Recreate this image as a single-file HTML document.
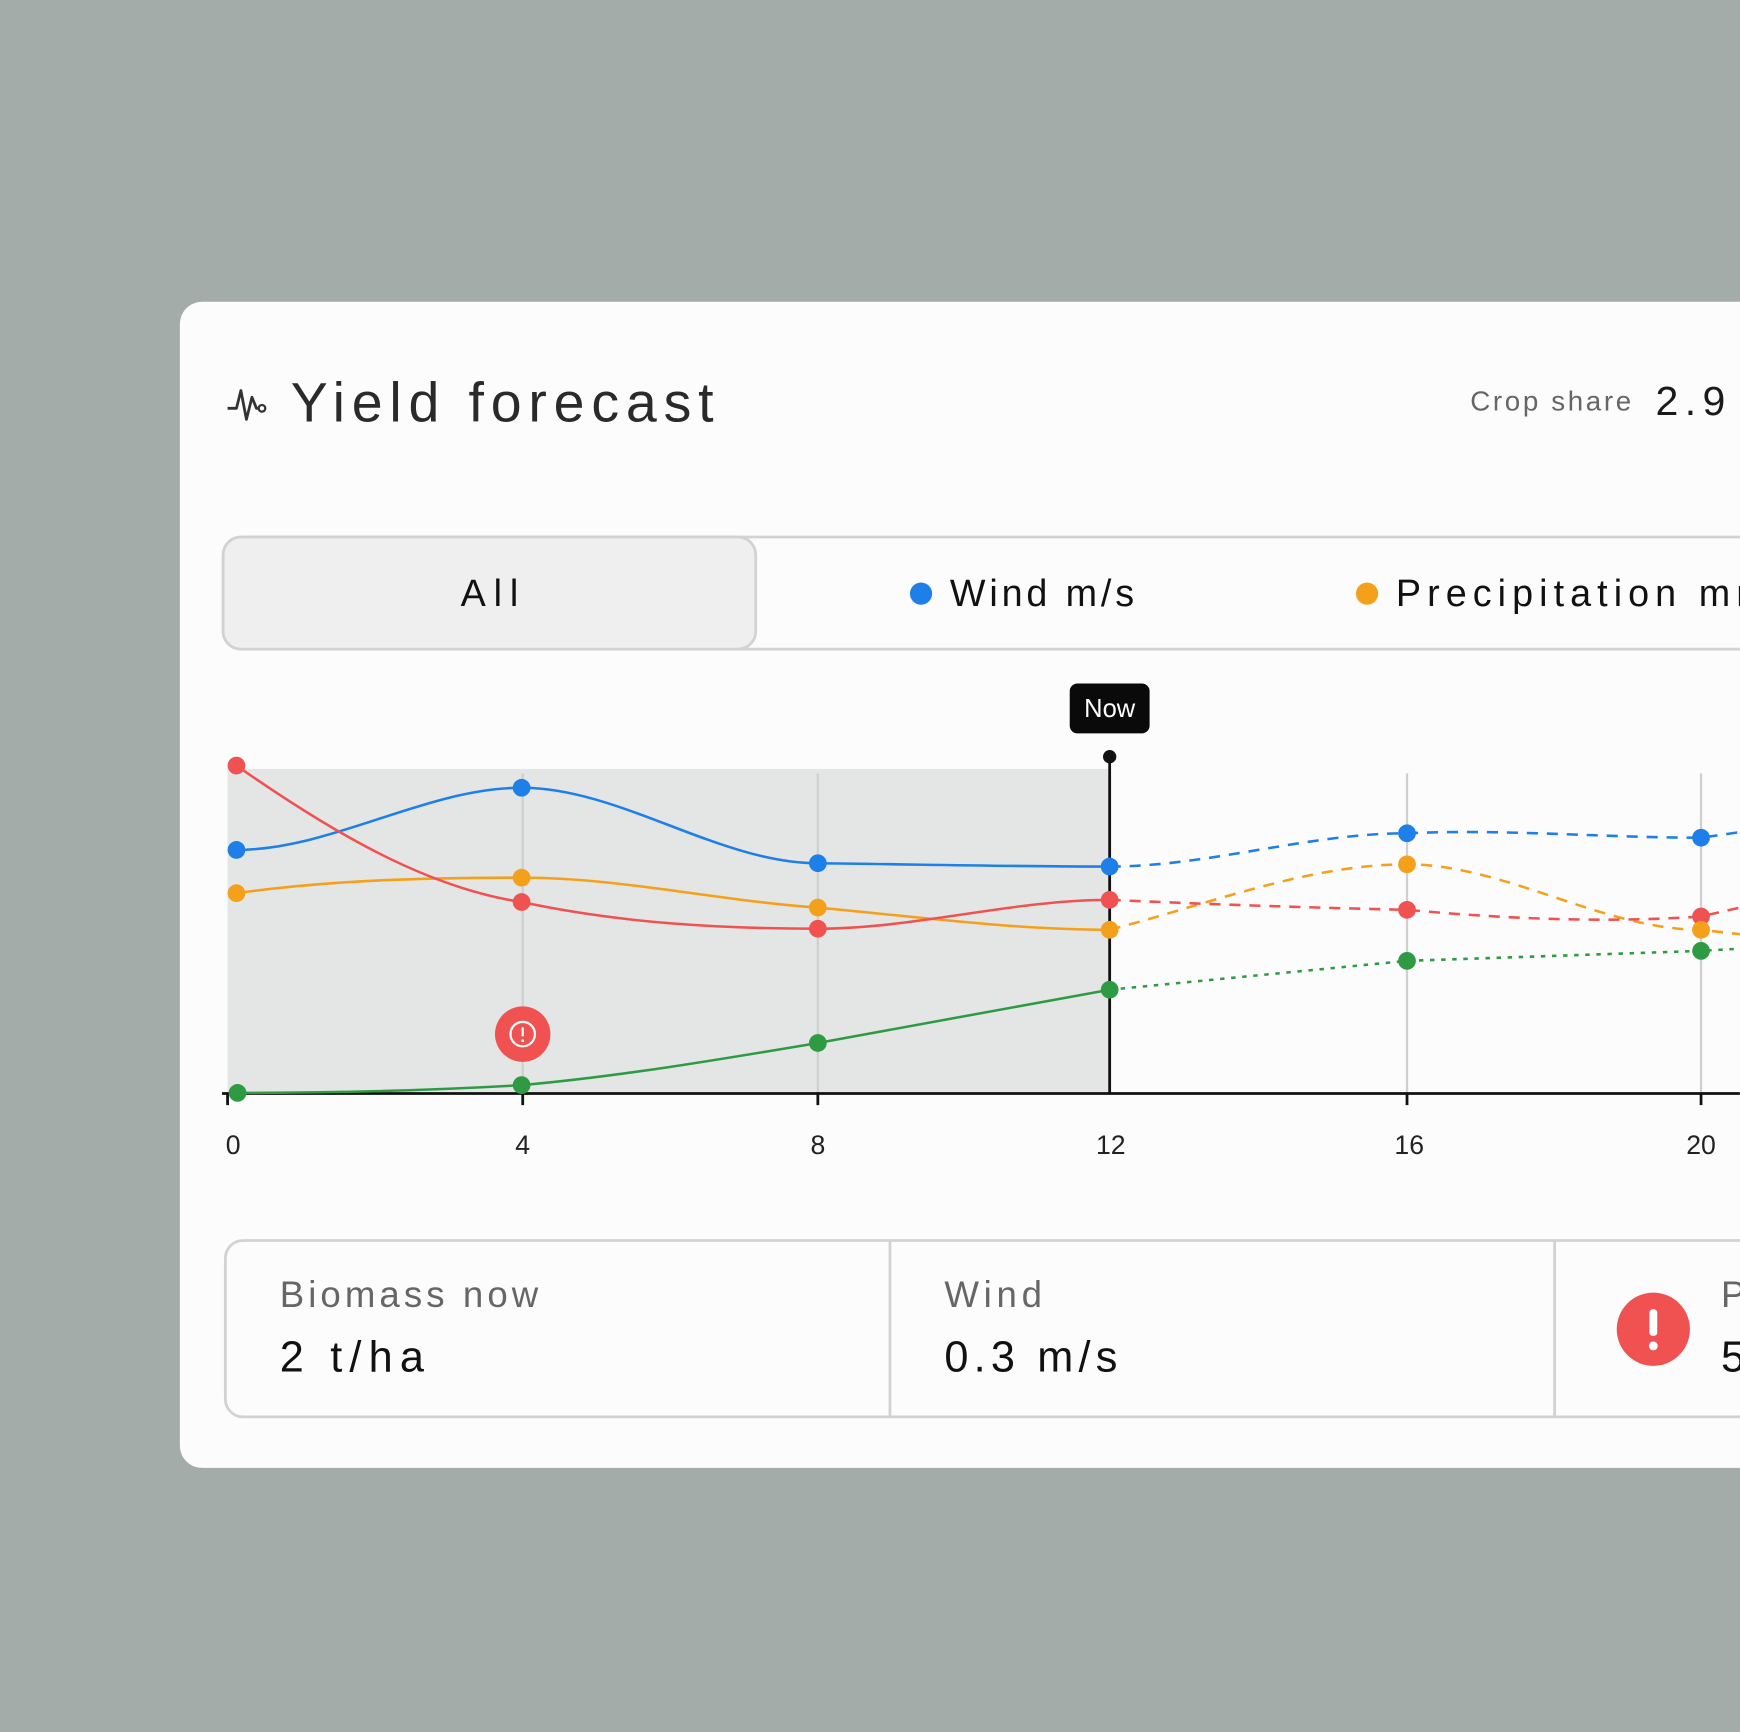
<!DOCTYPE html>
<html><head><meta charset="utf-8"><style>
html,body{margin:0;padding:0;background:#a3aca9;overflow:hidden}
svg{display:block}
text{font-family:"Liberation Sans",sans-serif}
</style></head><body>
<svg width="1740" height="1732" viewBox="0 0 1568 1561" xmlns="http://www.w3.org/2000/svg">
<rect width="1568" height="1561" fill="#a3aca9"/>
<rect x="162" y="272" width="1440" height="1051" rx="20" fill="#fcfcfc"/>
<path d="M205,368 L213,368 L217,352 L222,378 L227,358 L231,368 L234,368" fill="none" stroke="#333" stroke-width="2.5" stroke-linejoin="round"/>
<circle cx="236" cy="368" r="3" fill="none" stroke="#333" stroke-width="2"/>
<text x="262" y="380" font-size="50" fill="#2a2a2a" textLength="381" lengthAdjust="spacing">Yield forecast</text>
<text x="1325" y="370" font-size="25" fill="#666" textLength="145" lengthAdjust="spacing">Crop share</text>
<text x="1492" y="374" font-size="37" fill="#1a1a1a" textLength="95" lengthAdjust="spacing">2.9 t</text>
<rect x="201" y="484" width="1450" height="101" rx="16" fill="#fcfcfc" stroke="#d2d2d2" stroke-width="2.5"/>
<rect x="201" y="484" width="480" height="101" rx="16" fill="#efefef" stroke="#d2d2d2" stroke-width="2.5"/>
<text x="415" y="546" font-size="34" fill="#111" textLength="52" lengthAdjust="spacing">All</text>
<circle cx="830" cy="535" r="10" fill="#1f7fe8"/>
<text x="856" y="546" font-size="34" fill="#111" textLength="166" lengthAdjust="spacing">Wind m/s</text>
<circle cx="1232" cy="535" r="10" fill="#f5a01a"/>
<text x="1258" y="546" font-size="34" fill="#111" textLength="335" lengthAdjust="spacing">Precipitation mm</text>
<rect x="205" y="693" width="795" height="292" fill="#e3e6e4"/>
<g stroke="#cfcfcf" stroke-width="2">
<line x1="471" y1="697" x2="471" y2="985"/><line x1="737" y1="697" x2="737" y2="985"/>
<line x1="1268" y1="697" x2="1268" y2="985"/><line x1="1533" y1="697" x2="1533" y2="985"/>
</g>
<line x1="200" y1="985.5" x2="1568" y2="985.5" stroke="#111" stroke-width="2.5"/>
<g stroke="#111" stroke-width="2.5">
<line x1="205" y1="985" x2="205" y2="996"/><line x1="471" y1="985" x2="471" y2="996"/><line x1="737" y1="985" x2="737" y2="996"/>
<line x1="1268" y1="985" x2="1268" y2="996"/><line x1="1533" y1="985" x2="1533" y2="996"/>
</g>
<line x1="1000" y1="682" x2="1000" y2="985" stroke="#111" stroke-width="2.5"/>
<circle cx="1000" cy="682" r="6" fill="#111"/>
<rect x="964" y="616" width="72" height="45" rx="7" fill="#0a0a0a"/>
<text x="1000" y="646" font-size="23" fill="#fff" text-anchor="middle">Now</text>
<g font-size="24" fill="#222" text-anchor="middle">
<text x="210" y="1040">0</text><text x="471" y="1040">4</text><text x="737" y="1040">8</text>
<text x="1001" y="1040">12</text><text x="1270" y="1040">16</text><text x="1533" y="1040">20</text>
</g>
<g fill="none" stroke-width="2.3">
<path d="M213,766 C299,766 384,710 470,710 C559,710 648,778 737,778 C825,779 912,781 1000,781" stroke="#1f7fe8"/>
<path d="M1000,781 C1089,781 1179,751 1268,751 C1356,747 1445,755 1533,755 L1568,750" stroke="#1f7fe8" stroke-dasharray="10,8"/>
<path d="M213,805 C299,793 384,791 470,791 C559,791 648,812 737,818 C825,826 912,838 1000,838" stroke="#f5a01a"/>
<path d="M1000,838 C1089,815 1179,779 1268,779 C1356,779 1445,838 1533,838 L1568,842" stroke="#f5a01a" stroke-dasharray="10,8"/>
<path d="M213,690 C299,750 384,800 470,813 C559,832 648,837 737,837 C825,837 912,811 1000,811" stroke="#f05252"/>
<path d="M1000,811 C1089,815 1179,818 1268,820 C1356,828 1445,832 1533,826 L1568,818" stroke="#f05252" stroke-dasharray="10,8"/>
<path d="M214,985 C299,985 384,983 470,978 C559,970 648,955 737,940 L1000,892" stroke="#2e9b44"/>
<path d="M1000,892 L1268,866 L1533,857 L1568,855" stroke="#2e9b44" stroke-dasharray="4,6"/>
</g>
<g>
<circle cx="213" cy="766" r="8" fill="#1f7fe8"/><circle cx="470" cy="710" r="8" fill="#1f7fe8"/><circle cx="737" cy="778" r="8" fill="#1f7fe8"/><circle cx="1000" cy="781" r="8" fill="#1f7fe8"/><circle cx="1268" cy="751" r="8" fill="#1f7fe8"/><circle cx="1533" cy="755" r="8" fill="#1f7fe8"/>
<circle cx="213" cy="805" r="8" fill="#f5a01a"/><circle cx="470" cy="791" r="8" fill="#f5a01a"/><circle cx="737" cy="818" r="8" fill="#f5a01a"/><circle cx="1000" cy="838" r="8" fill="#f5a01a"/><circle cx="1268" cy="779" r="8" fill="#f5a01a"/>
<circle cx="213" cy="690" r="8" fill="#f05252"/><circle cx="470" cy="813" r="8" fill="#f05252"/><circle cx="737" cy="837" r="8" fill="#f05252"/><circle cx="1000" cy="811" r="8" fill="#f05252"/><circle cx="1268" cy="820" r="8" fill="#f05252"/><circle cx="1533" cy="826" r="8" fill="#f05252"/>
<circle cx="1533" cy="838" r="8" fill="#f5a01a"/>
<circle cx="214" cy="985" r="8" fill="#2e9b44"/><circle cx="470" cy="978" r="8" fill="#2e9b44"/><circle cx="737" cy="940" r="8" fill="#2e9b44"/><circle cx="1000" cy="892" r="8" fill="#2e9b44"/><circle cx="1268" cy="866" r="8" fill="#2e9b44"/><circle cx="1533" cy="857" r="8" fill="#2e9b44"/>
</g>
<circle cx="471" cy="932" r="25" fill="#f05252"/>
<circle cx="471" cy="932" r="11" fill="none" stroke="#fff" stroke-width="2"/>
<line x1="471" y1="926" x2="471" y2="934" stroke="#fff" stroke-width="2"/><circle cx="471" cy="938" r="1.3" fill="#fff"/>
<rect x="203" y="1118" width="1450" height="159" rx="16" fill="#fcfcfc" stroke="#d2d2d2" stroke-width="2.5"/>
<line x1="802" y1="1118" x2="802" y2="1277" stroke="#d2d2d2" stroke-width="2.5"/>
<line x1="1401" y1="1118" x2="1401" y2="1277" stroke="#d2d2d2" stroke-width="2.5"/>
<text x="252" y="1178" font-size="33" fill="#666" textLength="233" lengthAdjust="spacing">Biomass now</text>
<text x="252" y="1236" font-size="39" fill="#111" textLength="130" lengthAdjust="spacing">2 t/ha</text>
<text x="851" y="1178" font-size="33" fill="#666" textLength="88" lengthAdjust="spacing">Wind</text>
<text x="851" y="1236" font-size="39" fill="#111" textLength="156" lengthAdjust="spacing">0.3 m/s</text>
<circle cx="1490" cy="1198" r="33" fill="#f05252"/>
<rect x="1486.5" y="1180" width="7" height="24" rx="3" fill="#fff"/><circle cx="1490" cy="1213" r="4" fill="#fff"/>
<text x="1551" y="1178" font-size="33" fill="#666">P</text>
<text x="1551" y="1236" font-size="39" fill="#111">5</text>
</svg>
</body></html>
